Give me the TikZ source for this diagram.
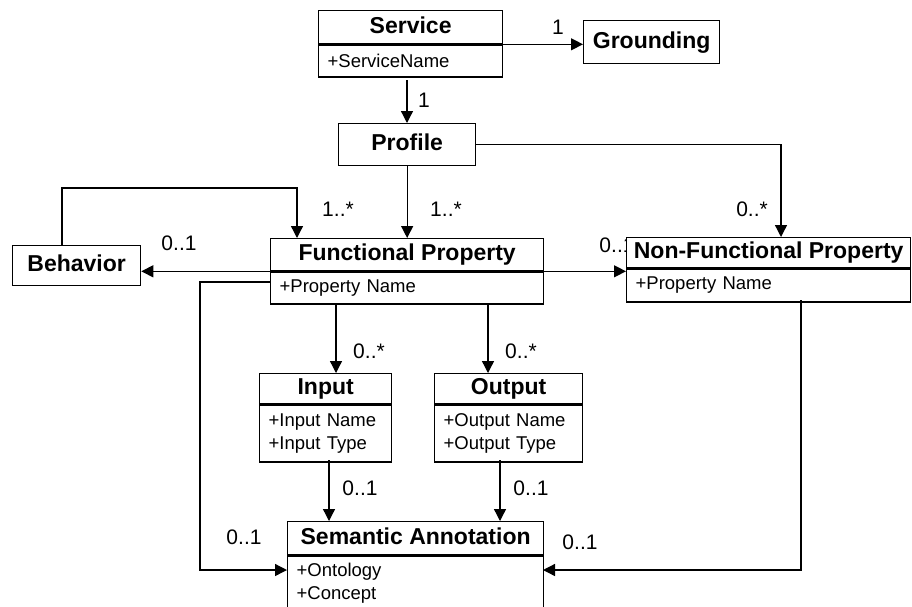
\documentclass[tikz,border=0pt]{standalone}
\usepackage{fontspec}
\setmainfont{Liberation Sans}
\usetikzlibrary{arrows.meta}

\begin{document}
\begin{tikzpicture}[x=1pt, y=-1pt, line width=1.3pt,
    cls/.style={draw, fill=white, anchor=north west, inner sep=0pt,
      text height=16.5pt, text depth=4.5pt, font=\bfseries\fontsize{23}{26}\selectfont},
    att/.style={draw, fill=white, anchor=north, inner xsep=9pt, inner ysep=0pt,
      align=left, font=\fontsize{18.5}{23}\selectfont},
    arr/.style={-{Triangle[length=12pt,width=12pt]}},
    mult/.style={font=\fontsize{21}{24}\selectfont}]
    \useasboundingbox (0,0) rectangle (912,606);
    \clip (0,0) rectangle (912,606);

    % classes
    \node[cls, minimum width=184pt, minimum height=33pt] (service) at (318,10) {Service};
    \node[att, text width=166pt, minimum height=32pt] (serviceAttr) at (service.south) {+ServiceName};
    \node[cls, minimum width=136pt, minimum height=43pt] (grounding) at (583,20) {Grounding};
    \node[cls, minimum width=137pt, minimum height=42pt] (profile) at (338,123) {Profile};
    \node[cls, minimum width=128pt, minimum height=40pt] (behavior) at (12,245) {Behavior};
    \node[cls, minimum width=273pt, minimum height=32pt] (fp) at (270,238) {Functional Property};
    \node[att, text width=255pt, minimum height=32pt] (fpAttr) at (fp.south) {+Property Name};
    \node[cls, minimum width=132pt, minimum height=30pt] (input) at (259,373) {Input};
    \node[att, text width=114pt, minimum height=57pt] (inputAttr) at (input.south) {+Input Name\\+Input Type};
    \node[cls, minimum width=148pt, minimum height=30pt] (output) at (434,373) {Output};
    \node[att, text width=130pt, minimum height=57pt] (outputAttr) at (output.south) {+Output Name\\+Output Type};
    \node[cls, minimum width=256pt, minimum height=33pt] (sa) at (287,521) {Semantic Annotation};
    \node[att, text width=238pt, minimum height=55pt] (saAttr) at (sa.south) {+Ontology\\+Concept};

    % label hidden under the NFP box
    \node[mult] (mFpNfp) at (617,245) {0..1};
    \node[cls, minimum width=284pt, minimum height=30pt] (nfp) at (626,237) {Non-Functional Property};
    \node[att, text width=266pt, minimum height=33pt] (nfpAttr) at (nfp.south) {+Property Name};

    % connector ends
    \coordinate (svcOut) at (407,80);
    \coordinate (nfpIn) at (781,237);
    \coordinate (behOut) at (62,245);
    \coordinate (fpIn) at (297,238);
    \coordinate (inIn) at (336,373);
    \coordinate (outIn) at (488,373);
    \coordinate (inOut) at (329,460);
    \coordinate (outOut) at (500,460);
    \coordinate (fpSide) at (200,282);
    \coordinate (saL) at (287,570);
    \coordinate (nfpOut) at (801,300);
    \coordinate (saR) at (543,570);

    % associations
    \draw[arr] (serviceAttr.north east) -- (serviceAttr.north east -| grounding.west);
    \draw[arr] (svcOut) -- (svcOut |- profile.north);
    \draw[arr] (profile.south) -- (profile.south |- fp.north);
    \draw[arr] (profile.east) -| (nfpIn);
    \draw[arr] (behOut) |- ([yshift=50pt]fpIn) -- (fpIn);
    \draw[arr] (fpAttr.north west) -- (fpAttr.north west -| behavior.east);
    \draw[arr] (fpAttr.north east) -- (fpAttr.north east -| nfp.west);
    \draw[arr] (inIn |- fpAttr.south) -- (inIn);
    \draw[arr] (outIn |- fpAttr.south) -- (outIn);
    \draw[arr] (inOut) -- (inOut |- sa.north);
    \draw[arr] (outOut) -- (outOut |- sa.north);
    \draw[arr] (fpSide -| fpAttr.west) -- (fpSide) |- (saL);
    \draw[arr] (nfpOut) |- (saR);

    % multiplicities
    \node[mult] at (558,27) {1};
    \node[mult] at (424,100) {1};
    \node[mult] at (446,209) {1..*};
    \node[mult] at (338,209) {1..*};
    \node[mult] at (752,209) {0..*};
    \node[mult] at (179,243) {0..1};
    \node[mult] at (369,351) {0..*};
    \node[mult] at (521,351) {0..*};
    \node[mult] at (360,488) {0..1};
    \node[mult] at (531,488) {0..1};
    \node[mult] at (244,537) {0..1};
    \node[mult] at (580,542) {0..1};
\end{tikzpicture}
\end{document}
